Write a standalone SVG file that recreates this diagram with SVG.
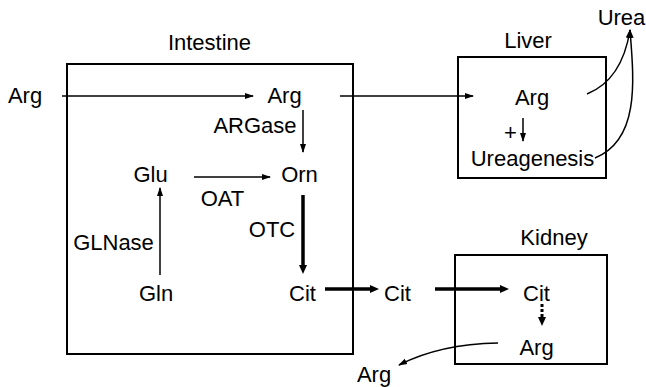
<svg xmlns="http://www.w3.org/2000/svg" width="646" height="387" viewBox="0 0 646 387">
<style>
text{font-family:"Liberation Sans",Arial,sans-serif;font-size:22px;fill:#000;text-anchor:middle}
.box{fill:none;stroke:#000;stroke-width:2}
.thin{fill:none;stroke:#000;stroke-width:1.5;marker-end:url(#ah)}
.thick{fill:none;stroke:#000;stroke-width:3.5;marker-end:url(#ahT)}
</style>
<defs>
<marker id="ah" markerUnits="userSpaceOnUse" markerWidth="9" markerHeight="7" refX="8" refY="3.5" orient="auto"><path d="M0,0.5 L9,3.5 L0,6.5 z" fill="#000"/></marker>
<marker id="ahT" markerUnits="userSpaceOnUse" markerWidth="10" markerHeight="8" refX="3" refY="4" orient="auto"><path d="M0,0 L9,4 L0,8 z" fill="#000"/></marker>
</defs>
<g id="intestine"><rect class="box" x="67" y="64" width="286" height="290"/><text x="209.5" y="50">Intestine</text></g>
<g id="liver"><rect class="box" x="458" y="57" width="148" height="121"/><text x="528" y="48">Liver</text></g>
<g id="kidney"><rect class="box" x="455" y="255" width="152" height="109"/><text x="554" y="245">Kidney</text></g>
<g id="arg-in"><text x="25" y="103">Arg</text></g>
<g id="arg-int"><text x="284.5" y="103">Arg</text></g>
<g id="glu"><text x="150.5" y="182">Glu</text></g>
<g id="orn"><text x="299.5" y="182">Orn</text></g>
<g id="gln"><text x="156" y="301">Gln</text></g>
<g id="cit-int"><text x="302.5" y="301">Cit</text></g>
<g id="cit-mid"><text x="397.5" y="301">Cit</text></g>
<g id="cit-kid"><text x="536.5" y="301">Cit</text></g>
<g id="arg-kid"><text x="536.5" y="355">Arg</text></g>
<g id="arg-out"><text x="374" y="382">Arg</text></g>
<g id="arg-liver"><text x="532" y="105">Arg</text></g>
<g id="ureagenesis"><text x="532.5" y="166">Ureagenesis</text></g>
<g id="urea"><text x="621.5" y="25">Urea</text></g>
<g id="connectors">
<line class="thin" x1="62" y1="96" x2="253" y2="96"/>
<line class="thin" x1="340" y1="96" x2="473" y2="96"/>
<line class="thin" x1="303" y1="110" x2="303" y2="152"/>
<text x="255" y="133">ARGase</text>
<line class="thin" x1="194" y1="177" x2="270" y2="177"/>
<text x="222.5" y="206">OAT</text>
<line class="thick" x1="303" y1="195" x2="303" y2="268"/>
<text x="272" y="237">OTC</text>
<line class="thin" x1="160" y1="275" x2="160" y2="188"/>
<text x="113.5" y="250">GLNase</text>
<line class="thick" x1="325" y1="289" x2="373" y2="289"/>
<line class="thick" x1="435" y1="289" x2="503" y2="289"/>
<line x1="542" y1="304" x2="542" y2="320" stroke="#000" stroke-width="3" stroke-dasharray="3,2" marker-end="url(#ahT)"/>
<path class="thin" d="M498,343 Q440,344 399,365"/>
<line class="thin" x1="523" y1="118" x2="523" y2="141"/>
<text x="510.5" y="140">+</text>
<path class="thin" d="M587,94 Q622,80 630,30"/>
<path class="thin" d="M595,158 C640,140 634,80 630,30"/>
</g>
</svg>
